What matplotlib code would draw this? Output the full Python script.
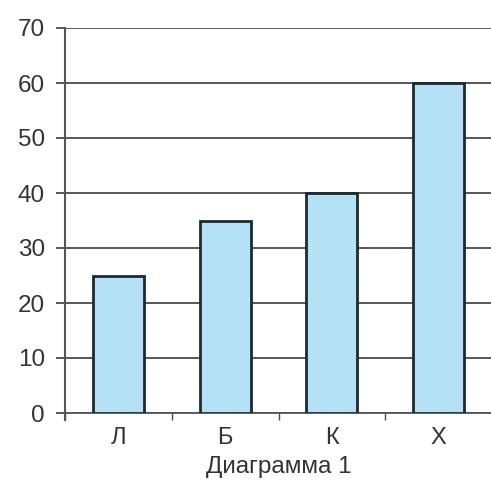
import matplotlib
matplotlib.use("Agg")
import matplotlib.pyplot as plt
import numpy as np

categories = ["Л", "Б", "К", "Х"]
values = [25, 35, 40, 60]
yticks = [0, 10, 20, 30, 40, 50, 60, 70]
xlabel = "Диаграмма 1"

W, H = 491, 483
fig = plt.figure(figsize=(W / 100, H / 100), dpi=100)
ax = fig.add_axes([65 / W, 70 / H, 427 / W, 385 / H])

x = np.arange(len(categories))
ax.bar(x, values, width=0.48, color="#b5e1f6", edgecolor="#1c2a30",
       linewidth=2.0, zorder=3)

ax.set_xlim(-0.5, len(categories) - 0.5)
ax.set_ylim(0, 70)
ax.set_yticks(yticks)
ax.set_yticklabels([str(v) for v in yticks], fontsize=17.5, color="#333333",
                   family="Liberation Sans")
ax.yaxis.grid(True, color="#4a4a4a", linewidth=1.3, zorder=1)
ax.tick_params(axis="y", length=6.5, width=1.3, color="#4a4a4a", pad=8)

# category boundaries as major ticks, labels at centers as minor ticks
ax.set_xticks(np.arange(len(categories) + 1) - 0.5)
ax.set_xticklabels([])
ax.set_xticks(x, minor=True)
ax.set_xticklabels(categories, minor=True, fontsize=17, color="#333333",
                   family="Liberation Sans")
ax.tick_params(axis="x", which="major", length=5, width=1.0, color="#4a4a4a",
               direction="out")
ax.tick_params(axis="x", which="minor", length=0, pad=10)
ax.set_xlabel(xlabel, fontsize=17.5, color="#333333", family="Liberation Sans",
              labelpad=5)

for s in ["top", "right"]:
    ax.spines[s].set_visible(False)
ax.spines["left"].set_color("#555555")
ax.spines["left"].set_linewidth(1.5)
ax.spines["left"].set_bounds(-1.3, 70)
ax.spines["bottom"].set_color("#555555")
ax.spines["bottom"].set_linewidth(1.3)
ax.set_axisbelow(True)

fig.savefig("out.png", dpi=100, facecolor="white")
